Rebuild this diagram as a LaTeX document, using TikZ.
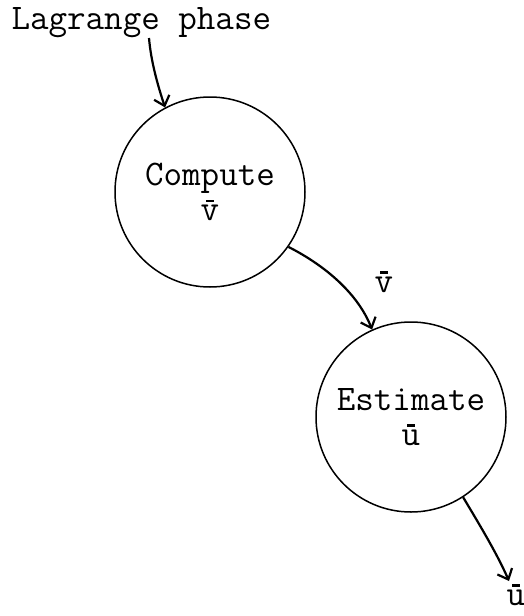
\documentclass[tikz,border=0pt]{standalone}
\usetikzlibrary{arrows.meta}
\newcommand{\barred}[1]{\leavevmode\vbox{\offinterlineskip
  \hbox to 0.525em{\hss\rule{0.2em}{2.6pt}\hss}\kern3pt\hbox{#1}}}

\begin{document}
\begin{tikzpicture}[x=1pt, y=-1pt,
    font=\ttfamily\fontsize{36}{36}\selectfont,
    bubble/.style={draw, circle, line width=1.5pt, minimum size=190pt,
      inner sep=0pt, align=center},
    flow/.style={line width=2.2pt, -{Straight Barb[length=9pt, width=16pt]}}]
  \useasboundingbox (0,0) rectangle (524,616);
  % Input from Lagrange phase
  \node[anchor=west] (lagr) at (8,23) {Lagrange phase};
  \coordinate (lagrtail) at (149,38);
  % Process bubbles
  \node[bubble] (comp) at (210,192) {Compute\\[-1pt]\barred{v}};
  \node[bubble] (est) at (411,417) {Estimate\\[-1pt]\barred{u}};
  % Output end
  \coordinate (outtip) at (509,581);
  % Data flows
  \draw[flow] (lagrtail) .. controls (151,62) and (158,86) .. (comp.118);
  \draw[flow] (comp.-35)
    .. controls (326,266) and (358,294) .. (est.114);
  \node (vlab) at (384,282) {\barred{v}};
  \draw[flow] (est.-57)
    .. controls (484,532) and (498,556) .. (outtip);
  \node (ulab) at (516,595) {\barred{u}};
\end{tikzpicture}
\end{document}
